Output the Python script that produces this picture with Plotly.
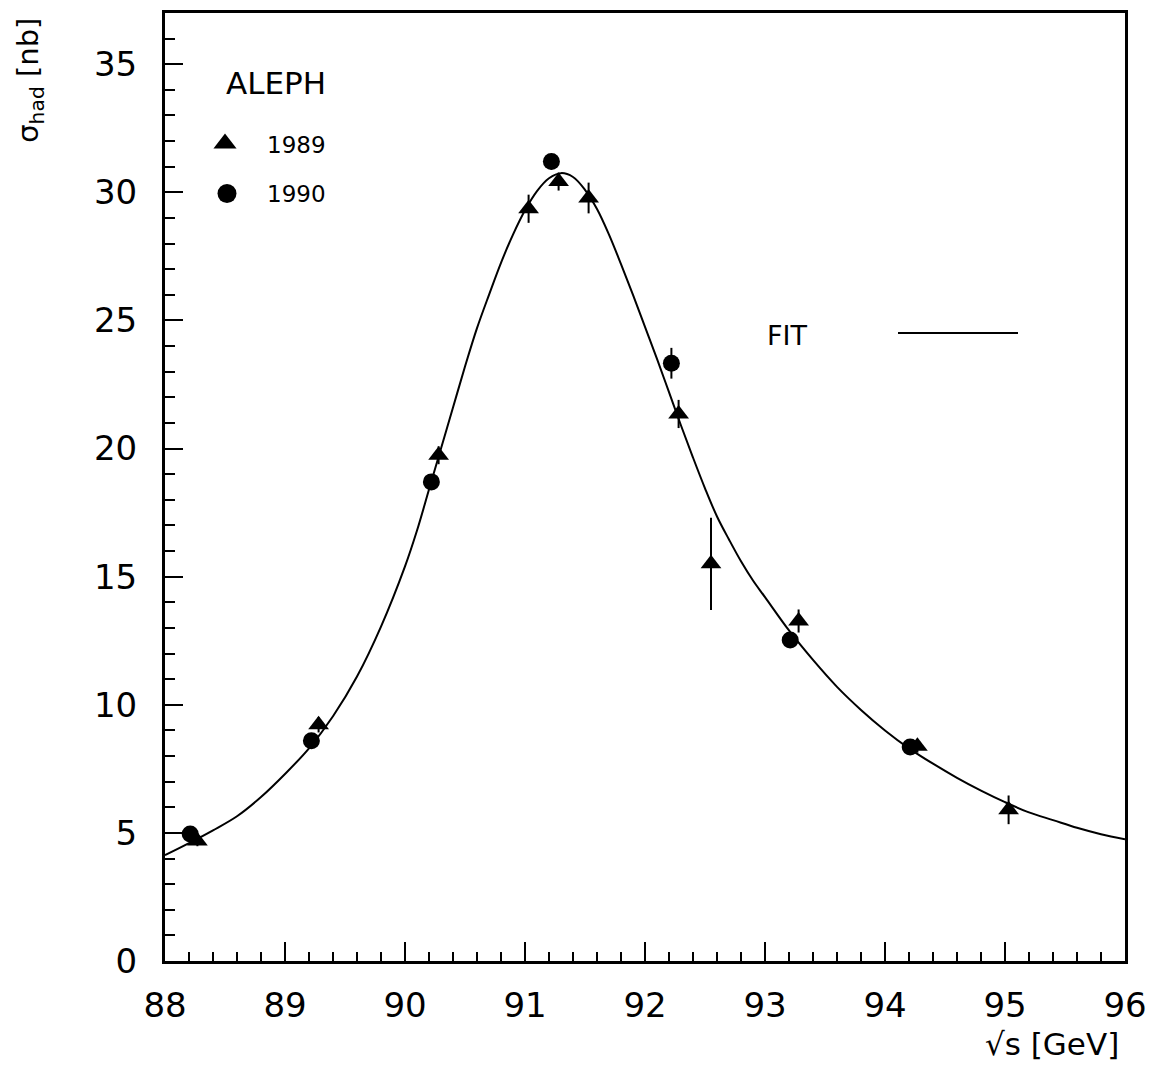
import plotly.graph_objects as go

# 1989 data (triangles)
x89 = [88.27, 89.28, 90.28, 91.03, 91.28, 91.53, 92.28, 92.55, 93.28, 94.27, 95.03]
y89 = [4.68, 9.22, 19.74, 29.36, 30.42, 29.78, 21.35, 15.5, 13.27, 8.38, 5.9]
e89 = [0.2, 0.3, 0.35, 0.55, 0.35, 0.6, 0.55, 1.8, 0.45, 0.25, 0.56]

# 1990 data (circles)
x90 = [88.21, 89.22, 90.22, 91.22, 92.22, 93.21, 94.21]
y90 = [4.96, 8.6, 18.7, 31.2, 23.33, 12.53, 8.35]
e90 = [0.15, 0.2, 0.25, 0.3, 0.6, 0.25, 0.2]

# fit curve values
fit_x = [88.0, 88.2, 88.4, 88.6, 88.8, 89.0, 89.2, 89.4, 89.6, 89.8, 90.0,
         90.1, 90.2, 90.3, 90.4, 90.5, 90.6, 90.7, 90.8, 90.9, 91.0, 91.1,
         91.2, 91.3, 91.4, 91.5, 91.6, 91.7, 91.8, 91.9, 92.0, 92.1, 92.2,
         92.3, 92.4, 92.5, 92.6, 92.7, 92.8, 92.9, 93.0, 93.2, 93.4, 93.6,
         93.8, 94.0, 94.2, 94.4, 94.6, 94.8, 95.0, 95.2, 95.4, 95.6, 95.8, 96.0]
fit_y = [4.13, 4.6, 5.1, 5.65, 6.4, 7.3, 8.3, 9.55, 11.1, 13.05, 15.4,
         16.8, 18.4, 20.0, 21.6, 23.2, 24.7, 26.0, 27.25, 28.35, 29.3, 30.05,
         30.55, 30.75, 30.6, 30.1, 29.35, 28.35, 27.2, 26.0, 24.75, 23.5, 22.2,
         20.9, 19.65, 18.45, 17.35, 16.45, 15.6, 14.85, 14.2, 12.9, 11.75, 10.7,
         9.8, 9.0, 8.3, 7.7, 7.15, 6.65, 6.2, 5.8, 5.5, 5.2, 4.95, 4.75]

x_ticks = [88, 89, 90, 91, 92, 93, 94, 95, 96]
y_ticks = [0, 5, 10, 15, 20, 25, 30, 35]

FONT = "DejaVu Sans"

fig = go.Figure()

fig.add_trace(go.Scatter(x=fit_x, y=fit_y, mode="lines",
                         line=dict(color="black", width=2, shape="spline", smoothing=1.0),
                         showlegend=False, hoverinfo="skip"))

fig.add_trace(go.Scatter(x=x89, y=y89, mode="markers",
                         marker=dict(symbol="triangle-up", size=18, color="black"),
                         error_y=dict(type="data", array=e89, visible=True,
                                      color="black", thickness=2, width=0),
                         showlegend=False))

fig.add_trace(go.Scatter(x=x90, y=y90, mode="markers",
                         marker=dict(symbol="circle", size=17, color="black"),
                         error_y=dict(type="data", array=e90, visible=True,
                                      color="black", thickness=2, width=0),
                         showlegend=False))

# legend symbols on an overlay axis in plot-area fractions
fig.add_trace(go.Scatter(x=[(225 - 165) / 960], y=[(961 - 141) / 951], mode="markers",
                         marker=dict(symbol="triangle-up", size=20, color="black"),
                         xaxis="x2", yaxis="y2", showlegend=False, hoverinfo="skip"))
fig.add_trace(go.Scatter(x=[(227 - 165) / 960], y=[(961 - 191) / 951], mode="markers",
                         marker=dict(symbol="circle", size=19, color="black"),
                         xaxis="x2", yaxis="y2", showlegend=False, hoverinfo="skip"))

axis_common = dict(showgrid=False, zeroline=False, showline=True, linecolor="black",
                   linewidth=3, mirror=True, ticks="inside", tickcolor="black",
                   tickwidth=2, tickfont=dict(family=FONT, size=34, color="black"))

fig.update_layout(
    width=1159, height=1071,
    margin=dict(l=165, r=34, t=10, b=110),
    paper_bgcolor="white", plot_bgcolor="white",
    font=dict(family=FONT, color="black"),
    xaxis=dict(range=[88, 96], tickvals=x_ticks, ticktext=[str(v) for v in x_ticks],
               ticklen=19, ticklabelstandoff=12,
               minor=dict(dtick=0.2, ticklen=9, tickwidth=2, ticks="inside",
                          tickcolor="black", showgrid=False),
               **axis_common),
    yaxis=dict(range=[0, 37], tickvals=y_ticks, ticktext=[str(v) for v in y_ticks],
               ticklen=18, ticklabelstandoff=18,
               minor=dict(dtick=1, ticklen=10, tickwidth=2, ticks="inside",
                          tickcolor="black", showgrid=False),
               **axis_common),
    xaxis2=dict(range=[0, 1], overlaying="x", visible=False),
    yaxis2=dict(range=[0, 1], overlaying="y", visible=False),
)

def px_x(p):
    return (p - 165) / 960

def px_y(p):
    return (961 - p) / 951

annots = [
    dict(text="σ<sub>had</sub> [nb]", x=px_x(30), y=px_y(78), textangle=-90,
         font=dict(size=29), xanchor="center", yanchor="middle"),
    dict(text="√s [GeV]", x=px_x(1121), y=px_y(1044), font=dict(size=31),
         xanchor="right", yanchor="middle"),
    dict(text="ALEPH", x=px_x(224), y=px_y(80), font=dict(size=31),
         xanchor="left", yanchor="middle"),
    dict(text="1989", x=px_x(265), y=px_y(142), font=dict(size=23),
         xanchor="left", yanchor="middle"),
    dict(text="1990", x=px_x(265), y=px_y(192), font=dict(size=23),
         xanchor="left", yanchor="middle"),
    dict(text="FIT", x=px_x(765), y=px_y(334), font=dict(size=27),
         xanchor="left", yanchor="middle"),
]
for a in annots:
    a.update(xref="paper", yref="paper", showarrow=False)
    a["font"].update(family=FONT, color="black")
    fig.add_annotation(**a)

fig.add_shape(type="line", xref="paper", yref="paper",
              x0=px_x(898), x1=px_x(1018), y0=px_y(331), y1=px_y(331),
              line=dict(color="black", width=2))

fig.write_html("out.html")
